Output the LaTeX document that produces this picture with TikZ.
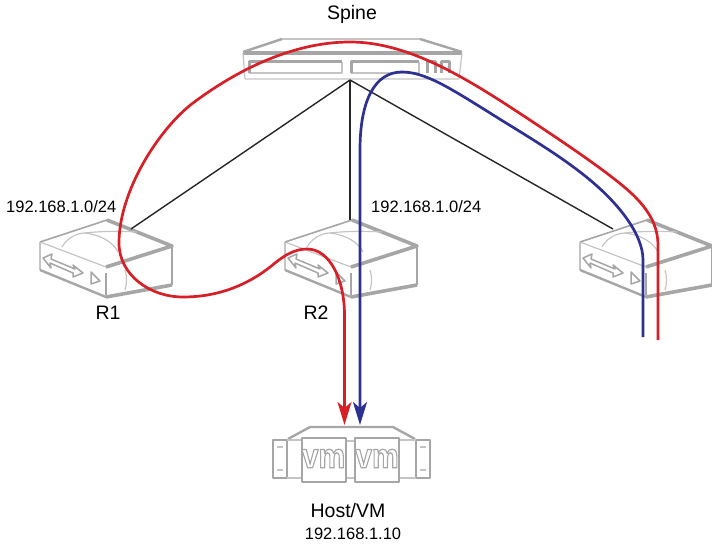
\documentclass[tikz,border=0pt]{standalone}
\usepackage{xcolor}
\usepackage{fontspec}
\setmainfont{Liberation Sans}
\usetikzlibrary{arrows.meta}
\definecolor{devgray}{HTML}{A6A6A6}
\definecolor{palegray}{HTML}{C4C4C4}
\definecolor{redpath}{HTML}{D71F27}
\definecolor{bluepath}{HTML}{2E3192}
\tikzset{
    x=1pt, y=-1pt,
    heavy/.style={draw=devgray, line width=3.6pt, line join=round},
    medium/.style={draw=devgray, line width=2.4pt, line join=round},
    fine/.style={draw=palegray, line width=1.2pt, line join=round},
    link/.style={draw=black!85, line width=1.4pt},
    flowred/.style={draw=redpath, line width=2.7pt},
    flowblue/.style={draw=bluepath, line width=2.7pt},
    flowtip/.style={-{Stealth[length=23pt,width=14pt,inset=6pt]}},
    biglabel/.style={font=\fontsize{19.5}{22}\selectfont, inner sep=0pt},
    addrlabel/.style={font=\fontsize{16.5}{19}\selectfont, inner sep=0pt},
    router/.pic={
        \draw[fine] (-67,22) -- (-1,47);
        \draw[medium, line width=1.6pt] (-67,22) -- (0,0);
        \draw[heavy] (0,0) -- (65,26) -- (-1,47);
        \draw[fine] (-67,22) -- (-67,50);
        \draw[medium] (-67,50) -- (-1,77);
        \draw[heavy] (-1,77) -- (65,65);
        \draw[medium] (65,26) -- (65,65);
        \draw[fine] (-45,27) .. controls (-40,18) and (-30,13) .. (-22,13) .. controls (-6,15) and (6,22) .. (11,32);
        \draw[fine] (-22,13) .. controls (-5,11) and (15,11) .. (30,12);
        \draw[medium, line width=1.5pt] (-64,38) -- (-55,34) -- (-56,39) -- (-32,49) -- (-34,45) -- (-24,53) -- (-34,57) -- (-34,53) -- (-57,43) -- (-56,48) -- cycle;
        \draw[medium, line width=1.5pt] (-16,52) -- (-7,61) -- (-16,64) -- cycle;
        \draw[medium, line width=1.6pt] (-1,53) -- (-1,75);
        \draw[fine] (18,50) .. controls (20,56) and (20,64) .. (18,70);
    },
    vmbox/.pic={
        \draw[medium, line width=2pt] (-22,-22) rectangle (22,22);
        \node[text=devgray, font=\fontsize{30}{30}\bfseries\selectfont, inner sep=0pt, yscale=1.15] (-logo) at (0,-1)
            {\special{pdf:code 1 Tr 1.1 w}vm\special{pdf:code 0 Tr}};
    },
}
\begin{document}
\begin{tikzpicture}
    \useasboundingbox (0,0) rectangle (712,548);
    \coordinate (spine) at (350,80);
    \coordinate (r1) at (131,229);
    \coordinate (r2) at (350,220);
    \coordinate (r3) at (613,229);
    \coordinate (redfree) at (658,340);
    \coordinate (bluefree) at (643,337);
    \coordinate (redhost) at (344.5,425);
    \coordinate (bluehost) at (360,425);

    \draw[medium] (282,39) -- (243,52);
    \draw[medium] (420,39) -- (462,52);
    \draw[medium, draw=palegray] (282,39) -- (420,39);
    \draw[draw=devgray, line width=4.5pt] (243,53) -- (462,53);
    \draw[fine] (243,53) -- (245,79) -- (459,79) -- (462,53);
    \draw[fine] (249,73) -- (342,73) -- (342,62);
    \draw[medium, line width=3pt] (342,62) -- (249,62) -- (249,73);
    \draw[fine] (351,73) -- (419,73) -- (419,62);
    \draw[medium, line width=3pt] (419,62) -- (351,62) -- (351,73);
    \foreach \x in {427,441}
        \draw[medium, line width=3pt] (\x,73) -- (\x,62) -- (\x+8,62) -- (\x+8,73);

    \foreach \x in {0,245,540}
        \pic at (107+\x,220) {router};

    \draw[link] (spine) -- (r1);
    \draw[link] (spine) -- (r2);
    \draw[link] (spine) -- (r3);

    \draw[medium] (288,439) -- (310,427) -- (393,427) -- (415,439);
    \draw[medium] (273,440) rectangle (287,478);
    \draw[medium] (416,440) rectangle (430,478);
    \draw[fine] (287,440) -- (301,440);
    \draw[fine] (287,478) -- (301,478);
    \draw[fine] (346,441) -- (355,441);
    \draw[fine] (346,478) -- (355,478);
    \draw[fine] (399,440) -- (416,440);
    \draw[fine] (399,478) -- (416,478);
    \foreach \x in {280,423} {
        \draw[fine] (\x-3,447) -- (\x+3,447);
        \draw[fine] (\x-3,470) -- (\x+3,470);
    }
    \pic (vm1) at (323.5,459.5) {vmbox};
    \pic (vm2) at (377,459.5) {vmbox};

    \draw[flowblue, flowtip] (bluefree) -- (643,260)
        .. controls (643,235) and (620,205) .. (590,180)
        .. controls (560,155) and (525,135) .. (490,113)
        .. controls (450,88) and (425,72) .. (402,72)
        .. controls (375,72) and (360,100) .. (360,150)
        -- (bluehost);
    \draw[flowred, flowtip] (redfree) -- (658,245)
        .. controls (658,215) and (635,195) .. (613,178)
        .. controls (585,156) and (530,120) .. (507,105)
        .. controls (450,68) and (400,42) .. (350,42)
        .. controls (290,42) and (233,73) .. (193,103)
        .. controls (160,128) and (119,190) .. (119,243)
        .. controls (119,275) and (150,297) .. (183,297)
        .. controls (225,297) and (255,280) .. (275,263)
        .. controls (285,255) and (295,249) .. (307,249)
        .. controls (330,249) and (344.5,280) .. (344.5,315)
        -- (redhost);

    \node[biglabel] (spinelabel) at (352,14) {Spine};
    \node[addrlabel, anchor=west] (r1addr) at (6,207) {192.168.1.0/24};
    \node[addrlabel, anchor=west] (r2addr) at (371,207) {192.168.1.0/24};
    \node[biglabel] (r1label) at (108,313) {R1};
    \node[biglabel] (r2label) at (316,313) {R2};
    \node[biglabel] (hostlabel) at (348,511) {Host/VM};
    \node[addrlabel] (hostaddr) at (353,534) {192.168.1.10};
\end{tikzpicture}
\end{document}
